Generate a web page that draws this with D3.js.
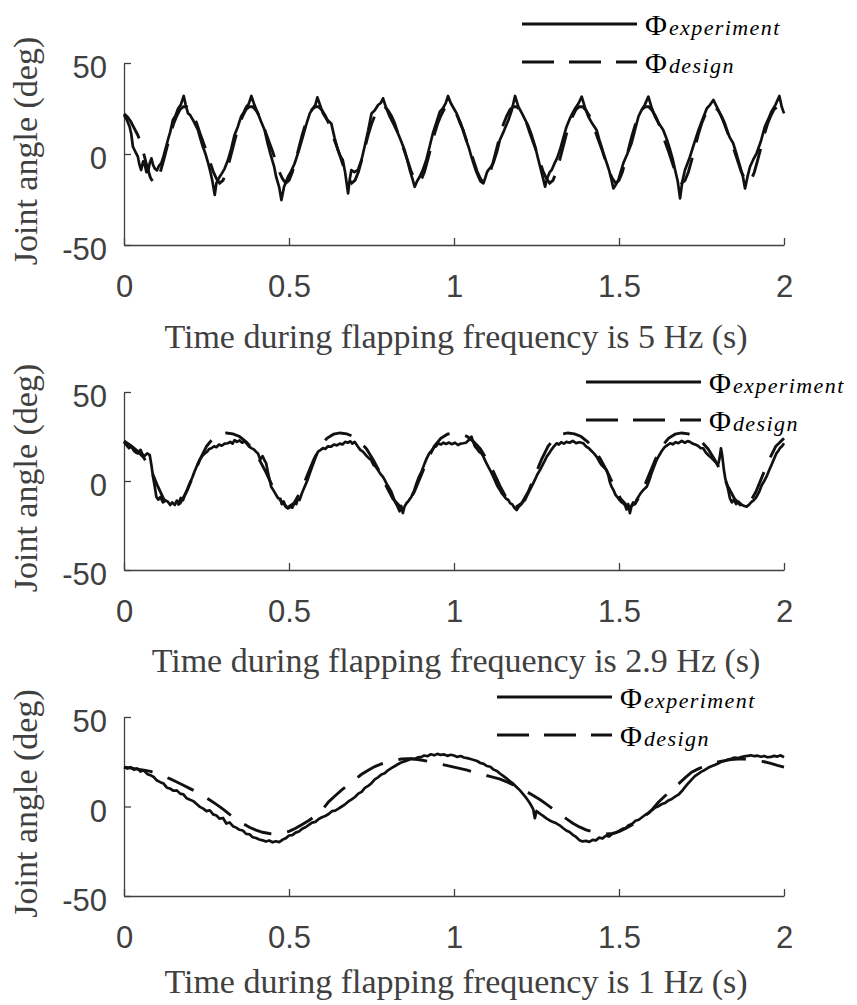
<!DOCTYPE html>
<html>
<head>
<meta charset="utf-8">
<script src="https://cdn.jsdelivr.net/npm/d3@7"></script>
<style>
  body { margin: 0; background: #fff; }
  .tick text { font-family: "Liberation Sans", Arial, Helvetica, sans-serif; font-size: 31px; fill: #404040; }
  .tick line, .domain { stroke: #404040; stroke-width: 1.3; }
  .label { font-family: "Liberation Serif", "Times New Roman", serif; font-size: 34px; fill: #404040; }
  .legend { font-family: "Liberation Serif", "Times New Roman", serif; fill: #000; }
</style>
</head>
<body>
<div id="chart-area"></div>
<script>
// Data (time in s, joint angle in deg)

let xTicks = [0, 0.5, 1, 1.5, 2];
let yTicks = [-50, 0, 50];
let legendNames = ["experiment", "design"];

// 5 Hz, measured
let exp5 = [[0.000,21.4],[0.008,19],[0.017,15],[0.022,11],[0.027,4],[0.035,1],[0.042,-1.5],[0.047,-6],[0.052,-8.8],[0.058,-4],[0.063,-6],[0.068,-10],[0.073,-9.7],[0.078,-5],[0.083,-2.4],[0.088,-6],[0.093,-7.9],[0.1,-9],[0.106,-6.5],[0.113,-5],[0.12,-1],[0.126,3],[0.133,7.7],[0.14,12],[0.148,18.7],[0.156,21],[0.164,25],[0.172,27],[0.181,31.9],[0.187,27],[0.194,22.3],[0.2,21.5],[0.209,18.7],[0.215,16.5],[0.224,13.2],[0.232,8],[0.239,4],[0.247,0],[0.255,-5],[0.262,-10],[0.268,-15],[0.275,-22.5],[0.28,-16],[0.285,-14],[0.29,-12.5],[0.297,-10.5],[0.305,-8],[0.315,-3.3],[0.325,3],[0.335,10.5],[0.345,15],[0.355,20.6],[0.363,23],[0.371,26],[0.378,27.5],[0.386,31.9],[0.395,27],[0.406,22.3],[0.415,18],[0.426,13.2],[0.435,6],[0.446,-1.5],[0.455,-7],[0.461,-12.5],[0.47,-18],[0.477,-25.3],[0.485,-18],[0.497,-12.5],[0.505,-10],[0.517,-5.2],[0.53,2],[0.542,9.5],[0.552,16],[0.563,22.3],[0.572,25],[0.58,27],[0.586,31.1],[0.594,27],[0.603,22.3],[0.615,19],[0.628,16.8],[0.638,9],[0.648,2.2],[0.655,-1],[0.663,-3.3],[0.67,-10],[0.679,-21.6],[0.684,-14],[0.689,-8.8],[0.698,-10],[0.709,-8.8],[0.72,-3],[0.729,4],[0.74,13],[0.75,22.3],[0.76,24],[0.77,26.9],[0.778,28],[0.785,30.6],[0.795,25],[0.805,20.6],[0.818,16],[0.83,11.4],[0.84,7],[0.85,2.2],[0.858,-3],[0.866,-8.8],[0.873,-13],[0.881,-18],[0.888,-15],[0.896,-12.5],[0.905,-9],[0.916,-3.3],[0.926,4],[0.936,11.4],[0.946,17],[0.957,23.3],[0.966,25],[0.975,28],[0.982,31.9],[0.99,28],[1.002,24.2],[1.008,22.3],[1.018,17],[1.028,13.2],[1.036,8],[1.044,4],[1.052,-1],[1.059,-5.1],[1.066,-9],[1.074,-12.5],[1.08,-15],[1.089,-16.1],[1.095,-13],[1.1,-10],[1.104,-8.8],[1.112,-7],[1.119,-5.1],[1.13,1],[1.139,7.7],[1.152,13],[1.165,18.7],[1.175,24],[1.185,31.9],[1.195,26],[1.206,22.3],[1.215,19],[1.226,15],[1.236,10],[1.246,4],[1.254,-2],[1.261,-7],[1.268,-12],[1.276,-18],[1.283,-13],[1.29,-10],[1.296,-8.8],[1.305,-5],[1.313,-2],[1.321,2.2],[1.33,8],[1.341,15],[1.35,19],[1.358,22],[1.367,25],[1.378,28],[1.387,31.5],[1.396,26],[1.407,20.6],[1.418,17],[1.432,13.2],[1.44,8],[1.447,4],[1.455,-1],[1.463,-5.1],[1.47,-9],[1.477,-14],[1.483,-18.9],[1.49,-17],[1.498,-14.3],[1.505,-10],[1.513,-5.1],[1.525,0],[1.538,5.9],[1.548,13],[1.559,20.6],[1.568,24],[1.578,27],[1.589,31.5],[1.598,26],[1.609,20.6],[1.62,17],[1.634,13.2],[1.645,8],[1.655,2.2],[1.663,-3],[1.67,-8.8],[1.678,-15],[1.685,-24.4],[1.692,-15],[1.7,-8.8],[1.708,-5],[1.715,-1.5],[1.728,6],[1.741,13.2],[1.753,19],[1.766,25],[1.776,27],[1.786,29.7],[1.796,26],[1.806,22.3],[1.816,18],[1.826,13.2],[1.836,9],[1.846,5.9],[1.856,0],[1.867,-7],[1.875,-12],[1.882,-18.9],[1.89,-12],[1.897,-7],[1.907,-3],[1.917,0.4],[1.93,7],[1.942,15],[1.952,19],[1.962,23.3],[1.974,27],[1.986,31.9],[1.993,26],[2.0,22.3]];

// 5 Hz, design, every 0.01 s
let design5 = [22,20.5,18,14.5,11,7,0,-7,-13,
  -16,-14.5,-10,-3.5,3.5,10.5,16.5,21,24.5,26,26,24,21,17,11.5,6.5,1.5,-4,-9.5,-13.5,
  -16,-14.5,-10,-3.5,3.5,10.5,16.5,21,24.5,26,26,24,21,17,11.5,6.5,1.5,-4,-9.5,-13.5,
  -16,-14.5,-10,-3.5,3.5,10.5,16.5,21,24.5,26,26,24,21,17,11.5,6.5,1.5,-4,-9.5,-13.5,
  -16,-14.5,-10,-3.5,3.5,10.5,16.5,21,24.5,26,26,24,21,17,11.5,6.5,1.5,-4,-9.5,-13.5,
  -16,-14.5,-10,-3.5,3.5,10.5,16.5,21,24.5,26,26,24,21,17,11.5,6.5,1.5,-4,-9.5,-13.5,
  -16,-14.5,-10,-3.5,3.5,10.5,16.5,21,24.5,26,26,24,21,17,11.5,6.5,1.5,-4,-9.5,-13.5,
  -16,-14.5,-10,-3.5,3.5,10.5,16.5,21,24.5,26,26,24,21,17,11.5,6.5,1.5,-4,-9.5,-13.5,
  -16,-14.5,-10,-3.5,3.5,10.5,16.5,21,24.5,26,26,24,21,17,11.5,6.5,1.5,-4,-9.5,-13.5,
  -16,-14.5,-10,-3.5,3.5,10.5,16.5,21,24.5,26,26,24,21,17,11.5,6.5,1.5,-4,-9.5,-13.5,
  -16,-14.5,-10,-3.5,3.5,10.5,16.5,21,24.5,26,26,23];
let design5Time = design5.map((v, i) => i * 0.01);

// 2.9 Hz, measured
let exp29 = [[0,22],[0.008,20],[0.015,18.5],[0.022,19.5],[0.03,17],[0.036,16],[0.042,15.5],[0.05,17.5],[0.056,15],[0.062,14],[0.07,15.5],[0.078,14.6],[0.083,9],[0.088,2.4],[0.093,-3],[0.098,-8.8],[0.104,-10.5],[0.11,-9],[0.118,-12],[0.126,-11],[0.133,-11.6],[0.14,-13.5],[0.146,-12],[0.154,-13.5],[0.16,-11],[0.166,-12.5],[0.172,-9.5],[0.179,-10.7],[0.186,-7],[0.192,-4.5],[0.199,-1.3],[0.207,2],[0.214,5.5],[0.221,8.5],[0.229,11.8],[0.237,14],[0.245,15.5],[0.252,16.5],[0.258,18],[0.265,18.4],[0.273,19.5],[0.28,19],[0.288,20.5],[0.296,19.8],[0.305,21],[0.315,21.2],[0.322,22],[0.329,21],[0.335,23],[0.342,22],[0.35,22.8],[0.358,21.5],[0.365,22.3],[0.371,21.2],[0.378,19.5],[0.386,18.5],[0.393,17.8],[0.4,16.5],[0.406,15.5],[0.413,12],[0.42,14],[0.426,11.5],[0.431,9.9],[0.437,4],[0.441,1],[0.446,-3.2],[0.452,-5],[0.46,-7.5],[0.467,-9.7],[0.474,-10],[0.478,-13],[0.484,-11.5],[0.49,-14.5],[0.497,-15.4],[0.504,-14.5],[0.51,-15],[0.516,-12.5],[0.522,-13],[0.527,-10],[0.532,-10.7],[0.54,-6.5],[0.548,-3],[0.556,0.5],[0.563,4.3],[0.57,8],[0.576,11],[0.582,14],[0.588,16.5],[0.596,17.5],[0.603,18.5],[0.61,18],[0.618,19.5],[0.628,19.3],[0.636,20.5],[0.645,20],[0.654,21],[0.662,20.5],[0.67,22],[0.678,21.5],[0.686,22.3],[0.692,21],[0.699,22],[0.708,19.5],[0.716,17.5],[0.724,16.5],[0.733,14.5],[0.741,13],[0.749,11.8],[0.756,9],[0.763,8],[0.77,6],[0.777,4],[0.784,2.5],[0.79,0.6],[0.797,-2],[0.804,-4],[0.81,-6],[0.816,-9],[0.822,-12],[0.828,-14],[0.835,-17],[0.84,-14],[0.845,-18],[0.85,-14.4],[0.856,-12.5],[0.863,-11],[0.871,-8.8],[0.879,-5.5],[0.886,-1.5],[0.893,2],[0.902,5.5],[0.911,9.9],[0.918,13],[0.925,15.5],[0.932,17],[0.94,19],[0.946,19.5],[0.952,21.2],[0.96,20.5],[0.968,21.5],[0.976,20.8],[0.985,21.6],[0.993,20.7],[1.003,21.5],[1.012,20.2],[1.02,21],[1.028,21.2],[1.036,21.5],[1.045,23],[1.053,24.9],[1.058,22],[1.064,19.3],[1.07,18],[1.076,16.5],[1.083,15.5],[1.089,13.7],[1.097,10.5],[1.104,8],[1.111,5.5],[1.119,2.4],[1.126,-0.5],[1.132,-3],[1.139,-5],[1.145,-7],[1.152,-8.5],[1.158,-10],[1.165,-10.7],[1.17,-12.5],[1.176,-13],[1.183,-15],[1.19,-16.3],[1.196,-14.5],[1.202,-13.5],[1.208,-12],[1.215,-10.7],[1.222,-8],[1.23,-5],[1.237,-2.5],[1.245,0.6],[1.252,3.5],[1.26,6],[1.267,8.5],[1.274,11],[1.281,13.7],[1.288,15.5],[1.295,17.5],[1.303,19.5],[1.311,21.2],[1.318,20.5],[1.325,21.8],[1.333,21],[1.341,22],[1.35,21.5],[1.36,22.5],[1.37,21.3],[1.38,21.8],[1.392,21.2],[1.4,19.5],[1.408,18.5],[1.416,17],[1.424,15.5],[1.432,13.7],[1.44,11],[1.447,9],[1.455,7.5],[1.462,6.2],[1.468,3],[1.472,-0.5],[1.477,-3],[1.483,-5],[1.49,-8],[1.497,-9.5],[1.503,-11],[1.508,-12],[1.513,-12.5],[1.518,-13.5],[1.523,-16],[1.528,-13],[1.533,-18.1],[1.538,-14],[1.543,-12],[1.548,-13],[1.553,-10.7],[1.56,-8.5],[1.567,-6.5],[1.574,-5],[1.584,-3.2],[1.591,0],[1.598,4],[1.606,8],[1.614,11.8],[1.622,14.5],[1.63,17],[1.638,19],[1.646,20],[1.655,21.2],[1.663,20.6],[1.672,21.8],[1.68,21.2],[1.69,22.5],[1.7,21.5],[1.708,22.4],[1.715,22],[1.723,21],[1.731,20.5],[1.739,19.8],[1.747,18.5],[1.755,18.4],[1.763,16],[1.771,14.5],[1.78,13],[1.788,11.5],[1.796,9.9],[1.8,9],[1.805,13],[1.809,18.4],[1.813,14],[1.818,6],[1.822,1.5],[1.826,-1.3],[1.831,-5],[1.836,-9.7],[1.842,-12],[1.848,-10.5],[1.855,-13],[1.861,-11.5],[1.867,-12.5],[1.873,-13.5],[1.88,-14],[1.887,-14.4],[1.893,-13.5],[1.9,-12],[1.907,-11],[1.912,-10],[1.917,-8.8],[1.925,-6],[1.932,-2.5],[1.94,0],[1.947,2.4],[1.955,6],[1.962,9],[1.97,12.5],[1.977,15.5],[1.983,17],[1.988,18.5],[1.994,19.5],[2.0,21.2]];

// 2.9 Hz, design
let design29 = [[0,22.5],[0.02,20],[0.04,17],[0.06,13],[0.08,7],[0.1,-2],[0.12,-10],[0.135,-13.5],
  [0.15,-15],[0.17,-12.5],[0.19,-6],[0.21,3],[0.23,12],[0.25,19.5],[0.27,24],[0.29,26.3],[0.31,27],[0.33,26.5],[0.35,25],[0.37,22],[0.39,18],[0.41,12],[0.43,5],[0.45,-3],[0.47,-10],
  [0.495,-15],[0.515,-12.5],[0.535,-6],[0.555,3],[0.575,12],[0.595,19.5],[0.615,24],[0.635,26.3],[0.655,27],[0.675,26.5],[0.695,25],[0.715,22],[0.735,18],[0.755,12],[0.775,5],[0.795,-3],[0.815,-10],
  [0.84,-15],[0.86,-12.5],[0.88,-6],[0.9,3],[0.92,12],[0.94,19.5],[0.96,24],[0.98,26.3],[1.0,27],[1.02,26.5],[1.04,25],[1.06,22],[1.08,18],[1.1,12],[1.12,5],[1.14,-3],[1.16,-10],
  [1.185,-15],[1.205,-12.5],[1.225,-6],[1.245,3],[1.265,12],[1.285,19.5],[1.305,24],[1.325,26.3],[1.345,27],[1.365,26.5],[1.385,25],[1.405,22],[1.425,18],[1.445,12],[1.465,5],[1.485,-3],[1.505,-10],
  [1.53,-15],[1.55,-12.5],[1.57,-6],[1.59,3],[1.61,12],[1.63,19.5],[1.65,24],[1.67,26.3],[1.69,27],[1.71,26.5],[1.73,25],[1.75,22],[1.77,18],[1.79,12],[1.81,5],[1.83,-3],[1.85,-10],
  [1.875,-15],[1.895,-12.5],[1.915,-6],[1.935,3],[1.955,12],[1.975,19.5],[2.0,24]];

// 1 Hz, measured
let exp1 = [[0,22],[0.01,21.2],[0.02,22],[0.03,20.5],[0.04,21.3],[0.05,19.5],[0.06,20.2],[0.07,18.2],[0.08,17.5],[0.09,16.5],[0.1,14.5],[0.11,13.6],[0.12,12.8],[0.13,10.5],[0.14,10],[0.15,8.8],[0.16,9],[0.17,7.2],[0.18,6.8],[0.19,4.6],[0.2,3.8],[0.21,3],[0.22,1.4],[0.23,-0.2],[0.24,-1.2],[0.25,-2.6],[0.26,-2.1],[0.27,-4.4],[0.28,-5],[0.29,-6.8],[0.3,-6.4],[0.31,-9.5],[0.32,-8.9],[0.33,-11],[0.34,-11.8],[0.35,-13],[0.36,-13.4],[0.37,-15.3],[0.38,-15.5],[0.39,-17.2],[0.4,-17.6],[0.41,-18.4],[0.42,-18.9],[0.43,-19.6],[0.44,-19],[0.45,-20],[0.46,-19.4],[0.47,-19.9],[0.48,-18.6],[0.49,-17.8],[0.5,-16.2],[0.51,-16],[0.52,-14.6],[0.53,-14],[0.54,-12.4],[0.55,-11.6],[0.56,-10.3],[0.57,-9],[0.58,-8.6],[0.59,-7],[0.6,-6],[0.61,-5.3],[0.62,-4.2],[0.63,-2.6],[0.64,-2.3],[0.65,-1.2],[0.66,0],[0.67,1.2],[0.68,2.8],[0.69,4],[0.7,5.3],[0.71,7.2],[0.72,8.2],[0.73,10.4],[0.74,11.5],[0.75,13],[0.76,15.2],[0.77,16.3],[0.78,17.9],[0.79,18.6],[0.8,20.2],[0.81,21.4],[0.82,22.5],[0.83,23.6],[0.84,24.6],[0.85,25.2],[0.86,25.8],[0.87,26.8],[0.88,26.4],[0.89,27.4],[0.9,27.6],[0.91,28.5],[0.92,28.1],[0.93,29.2],[0.94,28.6],[0.95,29.4],[0.96,28.8],[0.97,29.1],[0.98,28.3],[0.99,28.9],[1,28.5],[1.01,27.7],[1.02,28.2],[1.03,27.4],[1.04,27],[1.05,26.5],[1.06,26],[1.07,25.4],[1.08,24.3],[1.09,23.8],[1.1,22.6],[1.11,22.2],[1.12,20.6],[1.13,19.8],[1.14,18.3],[1.15,17],[1.16,15.6],[1.17,14],[1.18,12.6],[1.19,10.8],[1.2,9],[1.21,6.8],[1.22,4.5],[1.23,1.8],[1.24,-1.5],[1.245,-6.5],[1.25,-2.5],[1.26,-4],[1.27,-5.2],[1.28,-6.6],[1.29,-7.8],[1.3,-8.6],[1.31,-9.4],[1.32,-10.5],[1.33,-12],[1.34,-13.4],[1.35,-14.2],[1.36,-15.8],[1.37,-17],[1.38,-18.8],[1.39,-19.5],[1.4,-19.2],[1.41,-19.8],[1.42,-18.6],[1.43,-18.9],[1.44,-17.4],[1.45,-17.9],[1.46,-16.3],[1.47,-16.8],[1.48,-15.2],[1.49,-14.8],[1.5,-13.6],[1.51,-12.5],[1.52,-12],[1.53,-10.4],[1.54,-9.6],[1.55,-8],[1.56,-7.4],[1.57,-6],[1.58,-4.6],[1.59,-3.8],[1.6,-2],[1.61,-0.5],[1.62,0.2],[1.63,1.4],[1.64,2],[1.65,3.4],[1.66,4.2],[1.67,5.5],[1.68,6.6],[1.69,8.5],[1.7,10.8],[1.71,13],[1.72,15],[1.73,17],[1.74,18.2],[1.75,19.5],[1.76,20.4],[1.77,21.6],[1.78,22.5],[1.79,23.2],[1.8,24],[1.81,25],[1.82,25.4],[1.83,26.2],[1.84,26.6],[1.85,27.3],[1.86,27],[1.87,27.6],[1.88,28],[1.89,28.3],[1.9,28.6],[1.91,28.1],[1.92,28.4],[1.93,27.8],[1.94,28.2],[1.95,27.5],[1.96,27.7],[1.97,28.3],[1.98,27.9],[1.99,28.6],[2,27.5]];

// 1 Hz, design, every 0.02 s
let design1 = [22,21.5,20.9,20.3,19.6,18.5,17,15.4,13.7,11.9,10,8.2,6,3.6,1.2,-1.5,-4.4,-7,-9.5,-11.6,
  -13.2,-14.4,-15.1,-15.4,-15,-13.9,-12.2,-10,-7.8,-5.4,-2,2.6,6,9.3,12.2,15,18,20.3,22.3,23.8,
  24.8,25.8,26.5,26.7,26.5,26,25.3,24.6,23.7,22.8,22,21.2,20.3,19.2,18,17.2,16.3,15.3,13.8,12,
  10.2,8.3,6.2,3.9,1.3,-1.4,-4.1,-6.8,-9.3,-11.4,-13,-14.2,-15,-15.4,-15,-14,-12.3,-10.2,-7.8,-5,
  -1.8,2.5,6,9.3,12.6,16,19.2,21,22.6,24,24.9,25.6,26.2,26.5,26.5,26.2,25.6,25,24.1,23,22];
let design1Time = design1.map((v, i) => i * 0.02);

// Layout of the three stacked panels
let panels = [
  {title: "Time during flapping frequency is 5 Hz (s)", top: 63, bottom: 245, titleY: 348,
   exp: exp5, design: design5.map((v, i) => [design5Time[i], v]), legendX: 522, legendY: 24},
  {title: "Time during flapping frequency is 2.9 Hz (s)", top: 392, bottom: 570, titleY: 672,
   exp: exp29, design: design29, legendX: 586, legendY: 382},
  {title: "Time during flapping frequency is 1 Hz (s)", top: 717, bottom: 896, titleY: 993,
   exp: exp1, design: design1.map((v, i) => [design1Time[i], v]), legendX: 497, legendY: 697}
];

let svg = d3.select("#chart-area").append("svg")
    .attr("width", 857)
    .attr("height", 1005);

let x = d3.scaleLinear()
    .domain([0, 2])
    .range([124, 784]);

panels.forEach(p => {
    let y = d3.scaleLinear()
        .domain([-50, 50])
        .range([p.bottom, p.top]);

    let g = svg.append("g");

    // axes, ticks point inwards
    g.append("g")
        .attr("transform", `translate(0,${p.bottom})`)
        .call(d3.axisBottom(x).tickValues(xTicks).tickSize(-7).tickSizeOuter(0).tickFormat(d => String(d)))
        .call(a => a.selectAll("text").attr("y", 52).attr("dy", null));

    g.append("g")
        .attr("transform", "translate(124,0)")
        .call(d3.axisLeft(y).tickValues(yTicks).tickSize(-7).tickSizeOuter(0).tickFormat(d => String(d)))
        .call(a => a.selectAll("text").attr("x", -17).attr("dy", "0.47em"));

    // labels
    g.append("text")
        .attr("class", "label")
        .attr("x", 456)
        .attr("y", p.titleY)
        .attr("text-anchor", "middle")
        .text(p.title);

    g.append("text")
        .attr("class", "label")
        .attr("transform", `translate(37,${(p.top + p.bottom) / 2 - 3}) rotate(-90)`)
        .attr("text-anchor", "middle")
        .text("Joint angle (deg)");

    // curves
    let line = d3.line()
        .x(d => x(d[0]))
        .y(d => y(d[1]));

    g.append("path")
        .datum(p.exp)
        .attr("d", line)
        .attr("fill", "none")
        .attr("stroke", "#111")
        .attr("stroke-width", 2.7)
        .attr("stroke-linejoin", "round");

    g.append("path")
        .datum(p.design)
        .attr("d", line)
        .attr("fill", "none")
        .attr("stroke", "#111")
        .attr("stroke-width", 2.9)
        .attr("stroke-dasharray", "29,16");

    // legend
    legendNames.forEach((name, i) => {
        let ly = p.legendY + i * 38;
        g.append("line")
            .attr("x1", p.legendX)
            .attr("x2", p.legendX + 115)
            .attr("y1", ly)
            .attr("y2", ly)
            .attr("stroke", "#111")
            .attr("stroke-width", 3)
            .attr("stroke-dasharray", i ? "32,15" : null);

        let t = g.append("text")
            .attr("class", "legend")
            .attr("x", p.legendX + 123)
            .attr("y", ly + 11);
        t.append("tspan").attr("font-size", 30).text("Φ");
        t.append("tspan")
            .attr("font-size", 22)
            .attr("font-style", "italic")
            .attr("letter-spacing", 1.4)
            .attr("dx", 2)
            .text(name);
    });
});
</script>
</body>
</html>
